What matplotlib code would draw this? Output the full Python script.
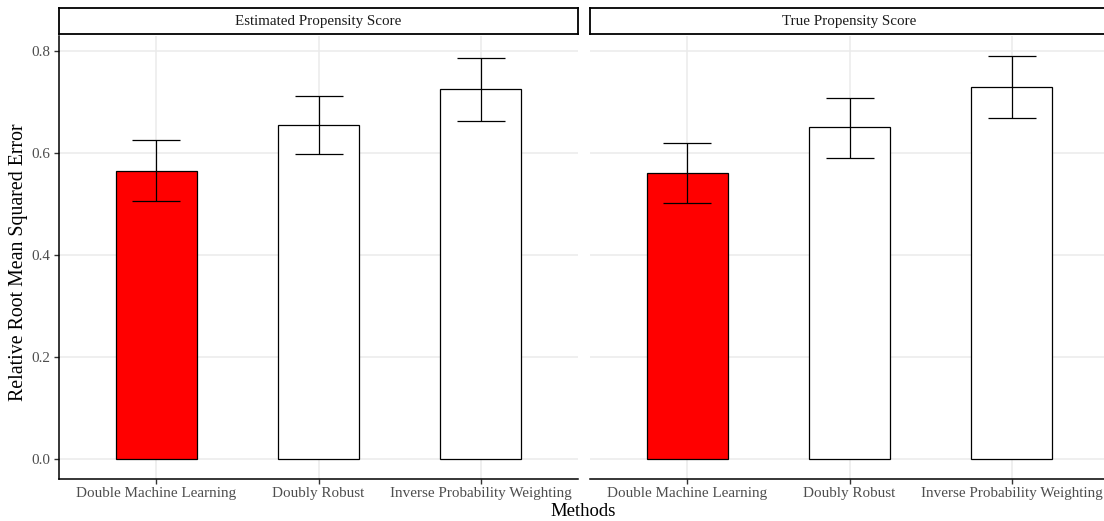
import matplotlib
matplotlib.use("Agg")
import matplotlib.pyplot as plt
import numpy as np

plt.rcParams['font.family'] = ['Liberation Serif', 'DejaVu Serif']

panels = ["Estimated Propensity Score", "True Propensity Score"]
methods = ["Double Machine Learning", "Doubly Robust", "Inverse Probability Weighting"]
rmse = {
    "Estimated Propensity Score": [0.565, 0.655, 0.725],
    "True Propensity Score": [0.561, 0.651, 0.729],
}
lower = {
    "Estimated Propensity Score": [0.506, 0.598, 0.663],
    "True Propensity Score": [0.502, 0.590, 0.669],
}
upper = {
    "Estimated Propensity Score": [0.625, 0.712, 0.786],
    "True Propensity Score": [0.620, 0.708, 0.790],
}
colors = ["#FF0000", "white", "white"]
yticks = [0.0, 0.2, 0.4, 0.6, 0.8]
ytick_labels = ["0.0", "0.2", "0.4", "0.6", "0.8"]

W, H = 1104, 521
fig = plt.figure(figsize=(W / 100, H / 100), dpi=100)

def px_axes(x0, y0, x1, y1):
    return fig.add_axes([x0 / W, 1 - y1 / H, (x1 - x0) / W, (y1 - y0) / H])

grid_c = "#EBEBEB"
tick_c = "#4D4D4D"
lefts = [59, 590]
pw = 519
for i, p in enumerate(panels):
    x0 = lefts[i]
    ax = px_axes(x0, 36, x0 + pw, 479)
    x = np.arange(len(methods))
    ax.set_xlim(-0.6, len(methods) - 1 + 0.6)
    lo, hi = 0, max(max(upper[q]) for q in panels)
    rng = hi - lo
    ax.set_ylim(lo - 0.05 * rng, hi + 0.05 * rng)
    ax.set_axisbelow(True)
    ax.grid(True, color=grid_c, linewidth=1.1)
    ax.bar(x, rmse[p], width=0.5, color=colors, edgecolor="black", linewidth=0.9, zorder=2)
    ax.errorbar(x, rmse[p], yerr=[np.array(rmse[p]) - np.array(lower[p]),
                                  np.array(upper[p]) - np.array(rmse[p])],
                fmt="none", ecolor="black", elinewidth=0.9, capsize=17, capthick=0.9, zorder=3)
    ax.set_xticks(x)
    ax.set_xticklabels(methods, fontsize=10.9, color=tick_c)
    ax.set_yticks(yticks)
    for s in ["top", "right"]:
        ax.spines[s].set_visible(False)
    ax.spines["bottom"].set_linewidth(1.1)
    ax.spines["left"].set_linewidth(1.1)
    ax.tick_params(axis="x", length=3.5, width=1.0, color="#333333", pad=2.5)
    ax.tick_params(axis="y", length=3.5, width=1.0, color="#333333", pad=2.5)
    if i == 0:
        ax.set_yticklabels(ytick_labels, fontsize=10.9, color=tick_c)
    else:
        ax.spines["left"].set_visible(False)
        ax.tick_params(axis="y", length=0, labelleft=False)
    # strip
    sx = px_axes(x0, 8, x0 + pw, 34)
    sx.set_xticks([])
    sx.set_yticks([])
    for s in sx.spines.values():
        s.set_linewidth(1.3)
        s.set_color("black")
    sx.text(0.5, 0.5, p, ha="center", va="center", fontsize=10.8, color="#1A1A1A",
            transform=sx.transAxes)

fig.text(583 / W, 1 - 512 / H, "Methods", ha="center", va="center", fontsize=13.5)
fig.text(19 / W, 1 - 262 / H, "Relative Root Mean Squared Error", ha="center", va="center",
         rotation=90, fontsize=14.3)

fig.savefig("out.png", dpi=100)
